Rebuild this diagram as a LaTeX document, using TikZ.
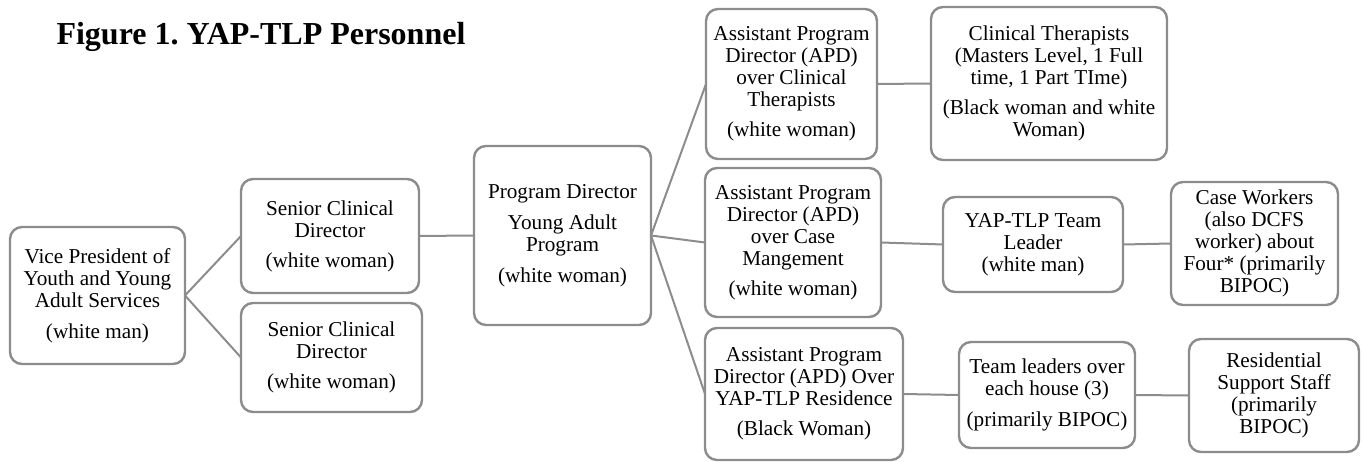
\documentclass[tikz,border=0pt]{standalone}
\usepackage{fontspec}
\setmainfont{Liberation Serif}
\frenchspacing
\definecolor{linegray}{RGB}{140,140,140}
\tikzset{
  box/.style={draw=linegray, line width=2.4pt, rounded corners=12pt, fill=white,
    align=center, inner sep=0pt, outer sep=0pt,
    font=\fontsize{21.2}{22}\selectfont},
  link/.style={draw=linegray, line width=2pt}
}
\begin{document}
\begin{tikzpicture}[x=1pt,y=-1pt]
\useasboundingbox (0,0) rectangle (1364,462);

\node[anchor=base west, font=\fontsize{32}{36}\selectfont\bfseries] (title) at (53,45)
  {Figure 1. YAP-TLP Personnel};

% level 1
\node[box, minimum width=175, minimum height=137] (vp) at (97.5,295.5)
  {Vice President of\\Youth and Young\\Adult Services\\[9pt](white man)};

% level 2
\node[box, minimum width=178, minimum height=114] (scd1) at (330,236)
  {Senior Clinical\\Director\\[8pt](white woman)};
\node[box, minimum width=181, minimum height=109] (scd2) at (331.5,357.5)
  {Senior Clinical\\Director\\[8pt](white woman)};

% level 3
\node[box, minimum width=177, minimum height=179] (pd) at (562.5,235.5)
  {Program Director\\[9pt]Young Adult\\Program\\[9pt](white woman)};

% level 4
\node[box, minimum width=171, minimum height=150] (apd1) at (791.5,84)
  {Assistant Program\\Director (APD)\\over Clinical\\Therapists\\[8pt](white woman)};
\node[box, minimum width=176, minimum height=149] (apd2) at (793,242.5)
  {Assistant Program\\Director (APD)\\over Case\\Mangement\\[8pt](white woman)};
\node[box, minimum width=198, minimum height=132] (apd3) at (804,394)
  {Assistant Program\\Director (APD) Over\\YAP-TLP Residence\\[8pt](Black Woman)};

% level 5
\node[box, minimum width=236, minimum height=153] (ct) at (1049,83.5)
  {Clinical Therapists\\(Masters Level, 1 Full\\time, 1 Part TIme)\\[8pt](Black woman and white\\Woman)};
\node[box, minimum width=180, minimum height=95] (tl) at (1033,244.5)
  {YAP-TLP Team\\Leader\\(white man)};
\node[box, minimum width=176, minimum height=106] (tlh) at (1047,395)
  {Team leaders over\\each house (3)\\[9pt](primarily BIPOC)};

% level 6
\node[box, minimum width=167, minimum height=123] (cw) at (1254.5,243.5)
  {Case Workers\\(also DCFS\\worker) about\\Four* (primarily\\BIPOC)};
\node[box, minimum width=170, minimum height=113] (rss) at (1274,395.5)
  {Residential\\Support Staff\\(primarily\\BIPOC)};

% connectors
\draw[link] (vp.east) -- (scd1.west);
\draw[link] (vp.east) -- (scd2.west);
\draw[link] (scd1.east) -- (pd.west);
\draw[link] (pd.east) -- (apd1.west);
\draw[link] (pd.east) -- (apd2.west);
\draw[link] (pd.east) -- (apd3.west);
\draw[link] (apd1.east) -- (ct.west);
\draw[link] (apd2.east) -- (tl.west);
\draw[link] (tl.east) -- (cw.west);
\draw[link] (apd3.east) -- (tlh.west);
\draw[link] (tlh.east) -- (rss.west);
\end{tikzpicture}
\end{document}
